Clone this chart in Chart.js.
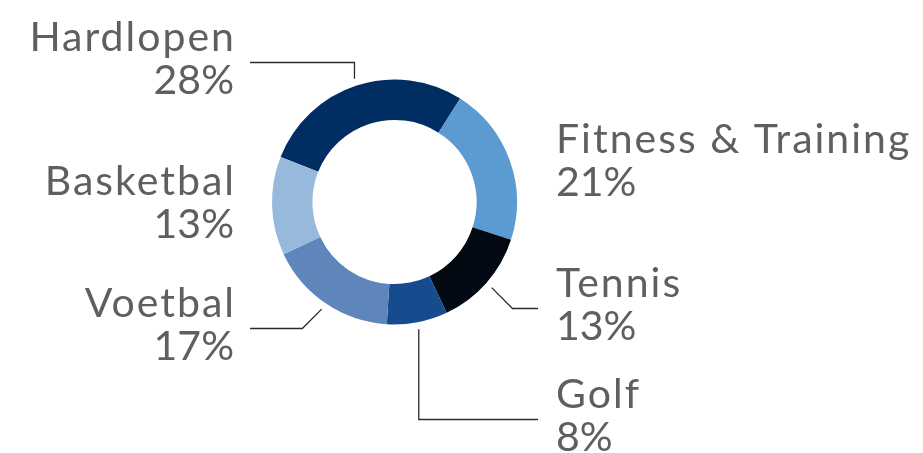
<!DOCTYPE html>
<html>
<head>
<meta charset="utf-8">
<script src="https://cdn.jsdelivr.net/npm/chart.js@4"></script>
<style>
    html, body { margin: 0; padding: 0; background: #ffffff; }
    #wrap { width: 923px; height: 453px; position: relative; }
</style>
</head>
<body>
<div id="wrap"><canvas id="sportChart"></canvas></div>
<script>
// Sports share (%)
const sports = ['Hardlopen', 'Fitness & Training', 'Tennis', 'Golf', 'Voetbal', 'Basketbal'];
const shares = [28, 21, 13, 8, 17, 13];
const sliceColors = ['#002d62', '#5b9bd1', '#020912', '#164b8e', '#5e86ba', '#97b9dc'];

// Where each label sits: side, first baseline, and how the leader line runs
const labelSpots = [
    { side: 'left',  y: 51,  leader: 'vertical' },
    { side: 'right', y: 153, leader: null },
    { side: 'right', y: 297, leader: 'diagonal' },
    { side: 'right', y: 408, leader: 'vertical' },
    { side: 'left',  y: 317, leader: 'diagonal' },
    { side: 'left',  y: 195, leader: null }
];

const LEFT_X = 234;
const RIGHT_X = 556;
const LINE_GAP = 43;
const NAME_SPACING = 2;

// Labels with leader lines around the ring
const sliceLabels = {
    id: 'sliceLabels',
    afterDraw(chart) {
        const ctx = chart.ctx;
        const arcs = chart.getDatasetMeta(0).data;
        ctx.save();
        ctx.font = '400 41px Lato, "Open Sans", sans-serif';
        ctx.fillStyle = '#5f5f5f';
        ctx.textBaseline = 'alphabetic';

        arcs.forEach((arc, i) => {
            const spot = labelSpots[i];
            const p = arc.getProps(['x', 'y', 'startAngle', 'endAngle', 'outerRadius'], true);
            const mid = (p.startAngle + p.endAngle) / 2;
            const r = p.outerRadius + 7;
            const sx = p.x + Math.cos(mid) * r;
            const sy = p.y + Math.sin(mid) * r;

            if (spot.leader) {
                const ly = spot.y + 11.5;
                const endX = spot.side === 'left' ? LEFT_X + 16 : RIGHT_X - 18;
                let ex = sx;
                if (spot.leader === 'diagonal') {
                    const dy = Math.abs(ly - sy);
                    ex = spot.side === 'left' ? sx - dy : sx + dy;
                }
                ctx.beginPath();
                ctx.strokeStyle = '#2b2b2b';
                ctx.lineWidth = 1.3;
                ctx.moveTo(sx, sy);
                ctx.lineTo(ex, ly);
                ctx.lineTo(endX, ly);
                ctx.stroke();
            }

            const left = spot.side === 'left';
            ctx.textAlign = left ? 'right' : 'left';
            const tx = left ? LEFT_X : RIGHT_X;

            // names are spaced out a little; trailing spacing would push right-aligned text left
            ctx.letterSpacing = NAME_SPACING + 'px';
            ctx.fillText(sports[i], left ? tx + NAME_SPACING : tx, spot.y);
            ctx.letterSpacing = '0px';
            ctx.fillText(shares[i] + '%', tx, spot.y + LINE_GAP);
        });
        ctx.restore();
    }
};

const ctx = document.getElementById('sportChart').getContext('2d');
const sportChart = new Chart(ctx, {
    type: 'doughnut',
    data: {
        labels: sports,
        datasets: [{
            data: shares,
            backgroundColor: sliceColors,
            borderWidth: 0,
            hoverOffset: 0
        }]
    },
    options: {
        responsive: true,
        maintainAspectRatio: false,
        animation: false,
        rotation: -68.4,
        cutout: '67%',
        layout: {
            padding: { left: 272, right: 406, top: 79.5, bottom: 128.5 }
        },
        plugins: {
            legend: { display: false },
            tooltip: { enabled: false }
        }
    },
    plugins: [sliceLabels]
});
</script>
</body>
</html>
